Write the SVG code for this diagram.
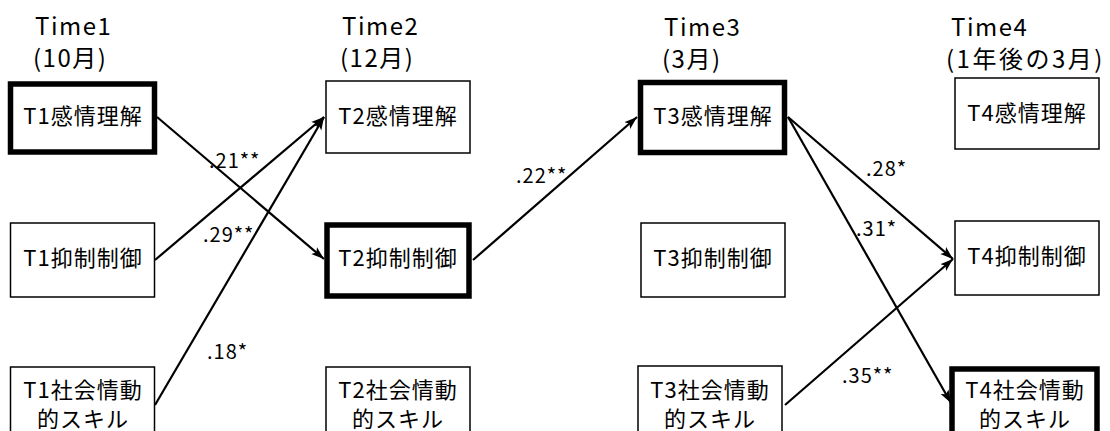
<svg xmlns="http://www.w3.org/2000/svg" width="1110" height="431" viewBox="0 0 1110 431">
<defs>
<marker id="ah" markerUnits="userSpaceOnUse" markerWidth="14" markerHeight="12" viewBox="0 0 14 12" refX="13" refY="6" orient="auto">
<path d="M0,1.5 L13,6 L0,10.5 L3,6 Z" fill="#000"/>
</marker>
<style>
text{font-family:"Noto Sans CJK JP","Noto Sans",sans-serif;fill:#000;}
.hd{font-size:24px;letter-spacing:1.5px;}
.lb{font-size:22px;letter-spacing:1px;text-anchor:middle;}
.co{font-size:20px;letter-spacing:1px;}
.bx{fill:#fff;stroke:#000;stroke-width:1.5;}
.bt{fill:#fff;stroke:#000;stroke-width:5.5;}
.ar{fill:none;stroke:#000;stroke-width:2.2;marker-end:url(#ah);}
</style>
</defs>
<rect width="1110" height="431" fill="#fff"/>
<g id="headers">
<text class="hd" x="35" y="35">Time1</text>
<text class="hd" x="33" y="67">(10月)</text>
<text class="hd" x="342" y="35">Time2</text>
<text class="hd" x="340" y="67">(12月)</text>
<text class="hd" x="664" y="36">Time3</text>
<text class="hd" x="662" y="68">(3月)</text>
<text class="hd" x="951" y="36">Time4</text>
<text class="hd" x="946" y="68" style="letter-spacing:2.5px">(1年後の3月)</text>
</g>
<g id="connectors">
<line class="ar" x1="157" y1="117" x2="324" y2="259"/>
<line class="ar" x1="155" y1="260" x2="324" y2="117"/>
<line class="ar" x1="155" y1="405" x2="324" y2="117"/>
<line class="ar" x1="473" y1="260" x2="637" y2="117"/>
<line class="ar" x1="788" y1="117" x2="953" y2="259"/>
<line class="ar" x1="788" y1="117" x2="951" y2="403"/>
<line class="ar" x1="785" y1="405" x2="953" y2="259"/>
<text class="co" x="209" y="168">.21**</text>
<text class="co" x="203" y="242">.29**</text>
<text class="co" x="207" y="359">.18*</text>
<text class="co" x="516" y="183">.22**</text>
<text class="co" x="866" y="176">.28*</text>
<text class="co" x="856" y="236">.31*</text>
<text class="co" x="842" y="383">.35**</text>
</g>
<g id="t1-emo"><rect class="bt" x="10.5" y="84" width="144" height="68"/><text class="lb" x="83" y="124">T1感情理解</text></g>
<g id="t2-emo"><rect class="bx" x="326" y="81" width="144" height="72"/><text class="lb" x="398" y="124">T2感情理解</text></g>
<g id="t3-emo"><rect class="bt" x="640.5" y="82.5" width="144" height="70"/><text class="lb" x="713" y="124">T3感情理解</text></g>
<g id="t4-emo"><rect class="bx" x="955" y="78" width="144" height="71"/><text class="lb" x="1027" y="121">T4感情理解</text></g>
<g id="t1-inh"><rect class="bx" x="10.5" y="223" width="144" height="74"/><text class="lb" x="83" y="266">T1抑制制御</text></g>
<g id="t2-inh"><rect class="bt" x="327" y="225" width="142" height="71"/><text class="lb" x="398" y="266">T2抑制制御</text></g>
<g id="t3-inh"><rect class="bx" x="641" y="223" width="144" height="74"/><text class="lb" x="713" y="266">T3抑制制御</text></g>
<g id="t4-inh"><rect class="bx" x="955" y="221" width="144" height="74"/><text class="lb" x="1027" y="264">T4抑制制御</text></g>
<g id="t1-soc"><rect class="bx" x="10.5" y="367" width="144" height="80"/><text class="lb" x="83" y="398">T1社会情動</text><text class="lb" x="83" y="427">的スキル</text></g>
<g id="t2-soc"><rect class="bx" x="326" y="367" width="144" height="80"/><text class="lb" x="398" y="398">T2社会情動</text><text class="lb" x="398" y="427">的スキル</text></g>
<g id="t3-soc"><rect class="bx" x="638" y="366" width="144" height="80"/><text class="lb" x="710" y="398">T3社会情動</text><text class="lb" x="710" y="427">的スキル</text></g>
<g id="t4-soc"><rect class="bt" x="952" y="369" width="145" height="80"/><text class="lb" x="1025" y="398">T4社会情動</text><text class="lb" x="1025" y="427">的スキル</text></g>
</svg>
